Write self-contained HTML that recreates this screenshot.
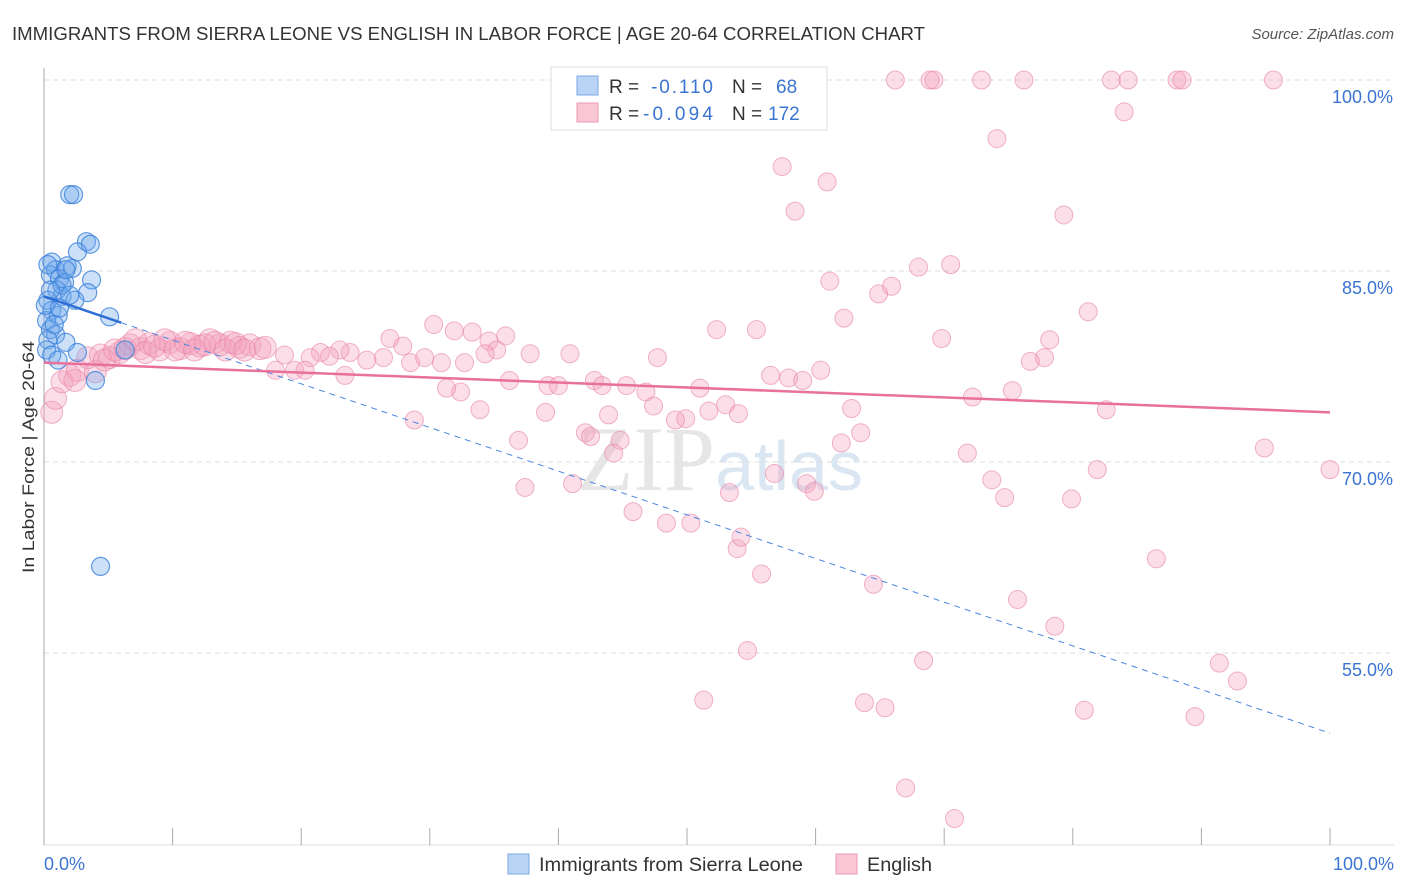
<!DOCTYPE html>
<html><head><meta charset="utf-8">
<style>
body{margin:0;background:#fff;font-family:"Liberation Sans",sans-serif;}
svg{display:block}
</style></head>
<body>
<svg id="chart" width="1406" height="892" viewBox="0 0 1406 892">
<text x="12" y="40" font-size="18" fill="#333" textLength="913" lengthAdjust="spacingAndGlyphs">IMMIGRANTS FROM SIERRA LEONE VS ENGLISH IN LABOR FORCE | AGE 20-64 CORRELATION CHART</text>
<text x="1394" y="39" font-size="15" fill="#555" font-style="italic" text-anchor="end">Source: ZipAtlas.com</text>
<text x="720" y="490" font-size="92" fill="#e6e6e6" text-anchor="middle" font-family="Liberation Serif, serif">ZIP<tspan fill="#dbe6f3" font-family="Liberation Sans, sans-serif" font-size="70">atlas</tspan></text>
<g id="grid"></g>
<g id="axes"></g>
<g id="pink"></g>
<g id="blue"></g>
<g id="trends"></g>
<text transform="translate(34,457) rotate(-90)" font-size="17" fill="#333" text-anchor="middle" textLength="232" lengthAdjust="spacingAndGlyphs">In Labor Force | Age 20-64</text>
<g>
<rect x="551" y="67" width="276" height="63" fill="#fff" stroke="#ddd"/>
<rect x="577" y="76" width="21" height="19" fill="#b9d4f5" stroke="#7aaae6"/>
<rect x="577" y="103" width="21" height="19" fill="#f9c6d5" stroke="#ec9ab3"/>
<text x="609" y="93" font-size="19" fill="#333">R =</text><text x="651" y="93" font-size="19" fill="#3b74d1" textLength="62">-0.110</text>
<text x="732" y="93" font-size="19" fill="#333">N =</text><text x="776" y="93" font-size="19" fill="#3b74d1">68</text>
<text x="609" y="120" font-size="19" fill="#333">R =</text><text x="643" y="120" font-size="19" fill="#3b74d1" textLength="70">-0.094</text>
<text x="732" y="120" font-size="19" fill="#333">N =</text><text x="768" y="120" font-size="19" fill="#3b74d1">172</text>
</g>
<g>
<rect x="508" y="854" width="21" height="20" fill="#b9d4f5" stroke="#7aaae6"/>
<text x="539" y="871" font-size="19" fill="#333" textLength="264" lengthAdjust="spacingAndGlyphs">Immigrants from Sierra Leone</text>
<rect x="836" y="854" width="21" height="20" fill="#f9c6d5" stroke="#ec9ab3"/>
<text x="867" y="871" font-size="19" fill="#333" textLength="65" lengthAdjust="spacingAndGlyphs">English</text>
</g>
</svg>
<script>
const yTicks=[100,85,70,55];
const yTickLabels=["100.0%","85.0%","70.0%","55.0%"];
const xTickLabels=["0.0%","100.0%"];
const blueX=[2.0,2.3,3.3,3.6,2.6,0.6,0.9,1.8,2.2,0.5,1.2,1.6,3.7,3.4,1.0,1.4,2.4,0.3,0.6,1.1,0.2,0.5,0.9,0.3,1.7,0.2,0.6,1.1,2.6,4.0,5.1,6.3,4.4,0.1,1.4,2.0,0.8,1.2,0.5,1.7,0.3];
const blueY=[91.0,91.0,87.3,87.1,86.5,85.7,85.1,85.4,85.2,84.7,84.4,84.1,84.3,83.3,83.5,83.0,82.7,82.7,81.9,81.5,81.1,80.4,80.0,79.6,79.4,78.8,78.4,78.0,78.6,76.4,81.4,78.8,61.8,82.3,83.9,83.1,80.8,82.1,83.5,85.1,85.5];
const pinkX=[66.2,68.9,69.2,72.9,76.2,83.0,84.3,88.1,88.5,95.6,84.0,74.1,57.4,60.9,58.4,79.3,68.0,70.5,61.1,65.9,64.9,81.2,62.2,78.2,69.8,52.3,55.4,76.7,77.8,47.7,40.9,30.3,31.9,33.3,35.9,34.6,35.2,34.3,37.8,26.9,27.9,26.4,25.1,23.8,23.0,21.5,22.2,20.7,18.7,18.0,19.5,20.3,23.4,28.5,29.6,30.9,32.7,36.2,39.2,40.0,42.8,43.4,45.3,46.8,51.0,56.5,57.9,59.0,60.4,53.0,54.0,51.7,49.9,49.1,47.4,43.9,42.1,42.5,44.8,44.3,36.9,39.0,33.9,32.4,31.3,28.8,37.4,41.1,45.8,48.4,50.3,53.3,56.8,59.3,59.9,62.0,63.5,62.8,71.8,72.2,75.3,82.6,73.7,74.7,79.9,81.9,94.9,100,86.5,75.7,78.6,64.5,55.8,53.9,54.2,54.7,68.4,63.8,65.4,51.3,80.9,89.5,91.4,92.8,67.0,70.8,
0.6,0.9,1.4,2.0,2.6,3.4,4.4,5.1,5.9,6.7,7.5,8.2,9.0,9.8,10.6,11.4,12.1,12.9,13.7,14.5,15.2,16.0,16.8,4.0,4.7,5.5,6.3,7.1,7.9,8.6,9.4,10.2,11.0,11.7,12.5,13.3,14.1,14.9,15.6,17.2,2.4];
const pinkY=[100,100,100,100,100,100,100,100,100,100,97.5,95.4,93.2,92.0,89.7,89.4,85.3,85.5,84.2,83.8,83.2,81.8,81.3,79.6,79.7,80.4,80.4,77.9,78.2,78.2,78.5,80.8,80.3,80.2,79.9,79.5,78.8,78.5,78.5,79.7,79.1,78.2,78.0,78.6,78.8,78.6,78.3,78.2,78.4,77.2,77.2,77.2,76.8,77.8,78.2,77.8,77.8,76.4,76.0,76.0,76.4,76.0,76.0,75.5,75.8,76.8,76.6,76.4,77.2,74.5,73.8,74.0,73.4,73.3,74.4,73.7,72.3,72.0,71.7,70.7,71.7,73.9,74.1,75.5,75.8,73.3,68.0,68.3,66.1,65.2,65.2,67.6,69.1,68.3,67.7,71.5,72.3,74.2,70.7,75.1,75.6,74.1,68.6,67.2,67.1,69.4,71.1,69.4,62.4,59.2,57.1,60.4,61.2,63.2,64.1,55.2,54.4,51.1,50.7,51.3,50.5,50.0,54.2,52.8,44.4,42.0,
73.9,75.0,76.3,76.8,77.2,78.2,78.4,78.2,78.6,79.2,78.9,79.3,78.8,79.4,78.9,79.3,79.1,79.6,79.2,79.4,79.0,79.2,78.9,77.1,78.0,78.8,78.9,79.6,78.6,79.1,79.6,78.8,79.4,78.8,79.2,79.4,78.8,79.3,78.8,79.0,76.4];
const blueTrend=[83.0,48.7];
const blueSolidEnd=6;
const pinkTrend=[77.8,73.9];

const NS="http://www.w3.org/2000/svg";
const X=v=>44+v*12.86;
const Y=v=>80+(100-v)*12.733;
function mk(tag,attrs,parent){const e=document.createElementNS(NS,tag);for(const k in attrs)e.setAttribute(k,attrs[k]);parent.appendChild(e);return e;}
const grid=document.getElementById('grid'),axes=document.getElementById('axes');
yTicks.forEach((t,i)=>{
  const l=mk('line',{x1:44,x2:1394,y1:Y(t),y2:Y(t),stroke:'#ddd','stroke-dasharray':'5,4'},grid);
  
  
  const tx=mk('text',{x:1393,y:Y(t)+23,'font-size':18,fill:'#3b74d1','text-anchor':'end'},grid);
  tx.textContent=yTickLabels[i];
  
  
});
const ax=mk('line',{x1:44,x2:44,y1:68,y2:845,stroke:'#aaa'},axes);


const bx=mk('line',{x1:44,x2:1394,y1:845,y2:845,stroke:'#ddd'},axes);


for(let i=0;i<=10;i++){
  const t=mk('line',{x1:X(i*10),x2:X(i*10),y1:828,y2:845,stroke:'#aaa'},axes);
  
  
}
[[0,'start',X(0)],[100,'end',X(100)+64]].forEach((d,i)=>{
  const t=mk('text',{x:d[2],y:870,'font-size':18,fill:'#3b74d1','text-anchor':d[1]},axes);
  t.textContent=xTickLabels[i];
  
  
});
const pg=document.getElementById('pink');
pinkX.forEach((x,i)=>{
  const r=x<18?11:9;
  const c=mk('circle',{cx:X(x),cy:Y(pinkY[i]),r:r,fill:'rgba(244,160,190,0.35)',stroke:'rgba(232,130,165,0.6)','stroke-width':1},pg);
  
  
});
const bg=document.getElementById('blue');
blueX.forEach((x,i)=>{
  const c=mk('circle',{cx:X(x),cy:Y(blueY[i]),r:9,fill:'rgba(110,165,235,0.35)',stroke:'rgba(60,130,220,0.8)','stroke-width':1.2},bg);
  
  
});
const tg=document.getElementById('trends');
const bAt=v=>blueTrend[0]+(blueTrend[1]-blueTrend[0])*v/100;
const l1=mk('line',{x1:X(0),y1:Y(bAt(0)),x2:X(blueSolidEnd),y2:Y(bAt(blueSolidEnd)),stroke:'#2f6fd6','stroke-width':2.5},tg);


const l2=mk('line',{x1:X(blueSolidEnd),y1:Y(bAt(blueSolidEnd)),x2:X(100),y2:Y(bAt(100)),stroke:'#4a86de','stroke-width':1,'stroke-dasharray':'6,5'},tg);


const l3=mk('line',{x1:X(0),y1:Y(pinkTrend[0]),x2:X(100),y2:Y(pinkTrend[1]),stroke:'#e8709a','stroke-width':2.5},tg);


</script>
</body></html>
